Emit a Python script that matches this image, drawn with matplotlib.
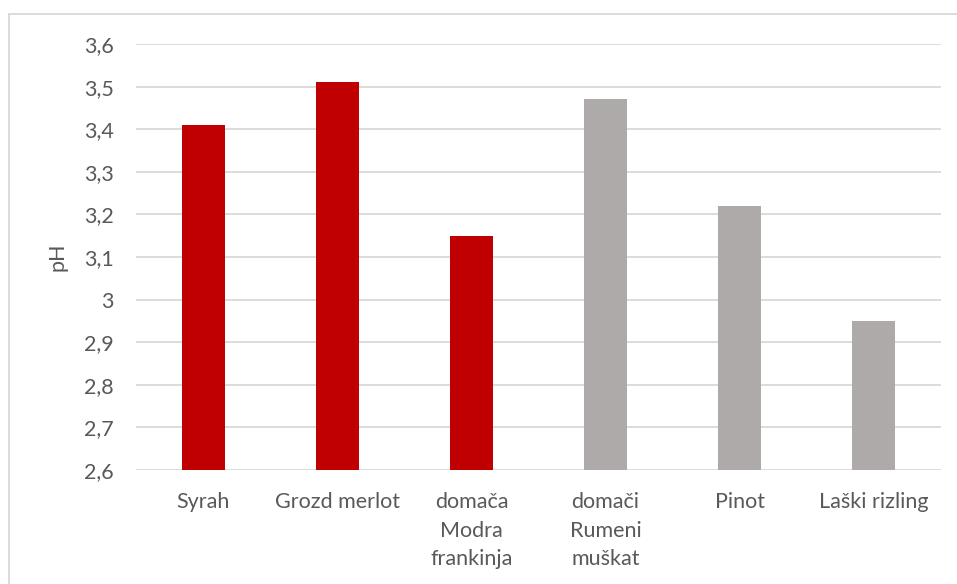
import matplotlib.pyplot as plt
from matplotlib.patches import Rectangle
import numpy as np

# pH vrijednosti po uzorku vina
CATEGORIES = ["Syrah", "Grozd merlot", "domača\nModra\nfrankinja",
              "domači\nRumeni\nmuškat", "Pinot", "Laški rizling"]
PH_VALUES = [3.41, 3.51, 3.15, 3.47, 3.22, 2.95]
BAR_COLORS = ["#C00000", "#C00000", "#C00000", "#AEAAAA", "#AEAAAA", "#AEAAAA"]
Y_TICKS = [2.6, 2.7, 2.8, 2.9, 3.0, 3.1, 3.2, 3.3, 3.4, 3.5, 3.6]

TEXT_COLOR = "#595959"
GRID_COLOR = "#D9D9D9"
FONT_SIZE = 15.5

plt.rcParams['font.family'] = ['Lato', 'DejaVu Sans']

W, H = 957, 584
fig = plt.figure(figsize=(W / 100, H / 100), dpi=100)

# chart border (only left and top edges fall inside the image)
fig.patches.append(Rectangle((9 / W, -0.1), 1.2, 1.1 - 14 / H, transform=fig.transFigure,
                             fill=False, edgecolor=GRID_COLOR, linewidth=1.3))

ax = fig.add_axes([136 / W, 1 - 470 / H, (941 - 136) / W, (470 - 44) / H])

x = np.arange(len(CATEGORIES))
ax.bar(x, np.array(PH_VALUES) - 2.6, bottom=2.6, width=0.32, color=BAR_COLORS, zorder=3)

ax.set_xlim(-0.5, len(CATEGORIES) - 0.5)
ax.set_ylim(2.6, 3.6)
ax.set_yticks(Y_TICKS)
ax.set_yticklabels([f"{v:g}".replace(".", ",") for v in Y_TICKS])
ax.set_xticks(x)
ax.set_xticklabels(CATEGORIES, linespacing=1.53, va="top")

ax.grid(axis="y", color=GRID_COLOR, linewidth=1.3, zorder=0)
for s in ax.spines.values():
    s.set_visible(False)
ax.tick_params(axis="both", length=0, labelsize=FONT_SIZE, colors=TEXT_COLOR)
ax.tick_params(axis="x", pad=16)
ax.tick_params(axis="y", pad=16)

ax.set_ylabel("pH", fontsize=FONT_SIZE, color=TEXT_COLOR, labelpad=12)

fig.savefig("out.png", dpi=100)
